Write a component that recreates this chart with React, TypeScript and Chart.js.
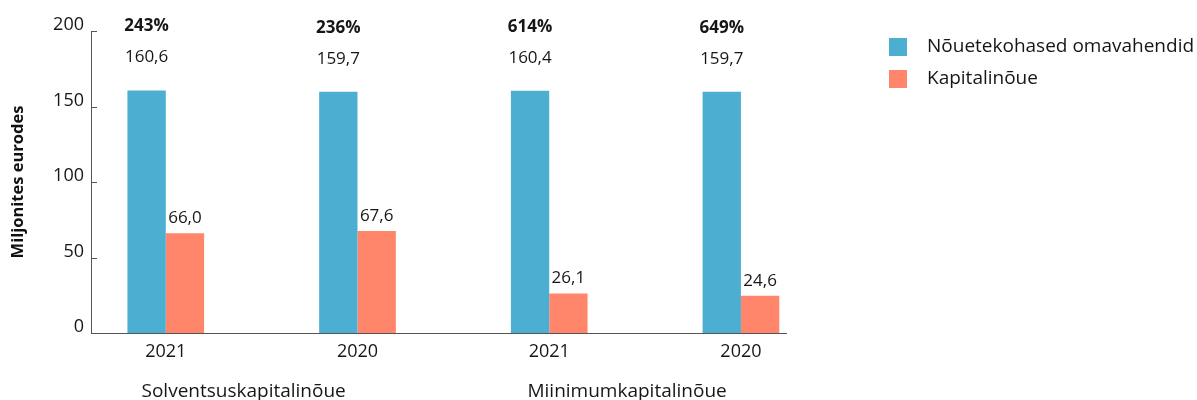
import React, { useEffect, useRef } from 'react';
import { Chart, registerables } from 'chart.js';

Chart.register(...registerables);

// ---- data ----
const categories = ['2021', '2020', '2021', '2020'];
const groupNames = ['Solventsuskapitalinõue', 'Miinimumkapitalinõue'];
const groupMembers = [[0, 1], [2, 3]];
const seriesNames = ['Nõuetekohased omavahendid', 'Kapitalinõue'];
const ownFunds = [160.6, 159.7, 160.4, 159.7];
const requirement = [66.0, 67.6, 26.1, 24.6];
const coverage = [243, 236, 614, 649];
const yTickStep = 50;
const yMax = 200;
const yAxisTitle = 'Miljonites eurodes';

// ---- style ----
const FONT = "'Open Sans', sans-serif";
const BLUE = '#4CAFD2';
const RED = '#FF866A';
const TEXT = '#161616';
const AXIS = '#555555';

const fmt = (v: number) => v.toFixed(1).replace('.', ',');

const valueLabels = {
  id: 'valueLabels',
  afterDatasetsDraw(chart: any) {
    const ctx = chart.ctx;
    ctx.save();
    ctx.textAlign = 'center';
    ctx.textBaseline = 'middle';
    ctx.fillStyle = TEXT;
    chart.data.datasets.forEach((ds: any, di: number) => {
      const meta = chart.getDatasetMeta(di);
      meta.data.forEach((bar: any, i: number) => {
        const v = ds.data[i].y;
        ctx.font = `17px ${FONT}`;
        const gap = di === 0 ? 33 : 15;
        ctx.fillText(fmt(v), bar.x, bar.y - gap);
        if (di === 0) {
          ctx.font = `bold 17px ${FONT}`;
          ctx.fillText(`${coverage[i]}%`, bar.x, bar.y - 64);
        }
      });
    });
    ctx.restore();
  },
};

const innerTicks = {
  id: 'innerTicks',
  afterDraw(chart: any) {
    const ctx = chart.ctx;
    const y = chart.scales.y;
    ctx.save();
    ctx.strokeStyle = AXIS;
    ctx.lineWidth = 1;
    y.ticks.forEach((t: any) => {
      const py = Math.round(y.getPixelForValue(t.value)) + 0.5;
      ctx.beginPath();
      ctx.moveTo(chart.chartArea.left, py);
      ctx.lineTo(chart.chartArea.left + 6, py);
      ctx.stroke();
    });
    ctx.restore();
  },
};

const sideLegend = {
  id: 'sideLegend',
  afterDraw(chart: any) {
    const ctx = chart.ctx;
    const x0 = chart.chartArea.right + 103;
    ctx.save();
    ctx.textAlign = 'left';
    ctx.textBaseline = 'middle';
    ctx.font = `19px ${FONT}`;
    chart.data.datasets.forEach((ds: any, i: number) => {
      const top = 38 + i * 32;
      ctx.fillStyle = ds.backgroundColor;
      ctx.fillRect(x0, top, 18, 18);
      ctx.fillStyle = TEXT;
      ctx.fillText(ds.label, x0 + 38, top + 9);
    });
    ctx.restore();
  },
};

export default function App() {
  const ref = useRef<HTMLCanvasElement | null>(null);

  useEffect(() => {
    document.body.style.margin = '0';
    const canvas = ref.current;
    if (!canvas) return;
    const xMin = -0.39;
    const xMax = 3.235;
    const chart = new Chart(canvas, {
      type: 'bar',
      data: {
        datasets: [
          {
            label: seriesNames[0],
            data: ownFunds.map((y, i) => ({ x: i, y })),
            backgroundColor: BLUE,
            categoryPercentage: 0.4,
            barPercentage: 1,
          },
          {
            label: seriesNames[1],
            data: requirement.map((y, i) => ({ x: i, y })),
            backgroundColor: RED,
            categoryPercentage: 0.4,
            barPercentage: 1,
          },
        ],
      } as any,
      options: {
        animation: false,
        responsive: true,
        maintainAspectRatio: false,
        layout: { padding: { top: 31, right: 411, left: 0, bottom: 0 } },
        plugins: { legend: { display: false }, tooltip: { enabled: false } },
        scales: {
          x: {
            type: 'linear',
            min: xMin,
            max: xMax,
            offset: false,
            grid: { display: false, drawTicks: false, offset: false },
            border: { display: true, color: AXIS, width: 1 },
            ticks: {
              autoSkip: false,
              maxRotation: 0,
              padding: 8,
              font: { family: FONT, size: 18 },
              color: TEXT,
              callback: (v: any) => categories[v] ?? '',
            },
            afterBuildTicks: (s: any) => {
              s.ticks = categories.map((_, i) => ({ value: i }));
            },
            afterFit: (s: any) => {
              s.height = 30;
            },
          },
          groups: {
            type: 'linear',
            position: 'bottom',
            weight: 1,
            min: xMin,
            max: xMax,
            offset: false,
            grid: { display: false, drawTicks: false },
            border: { display: false },
            ticks: {
              autoSkip: false,
              maxRotation: 0,
              padding: 17,
              labelOffset: -18,
              font: { family: FONT, size: 19 },
              color: TEXT,
              callback: (_v: any, idx: number) => groupNames[idx],
            },
            afterBuildTicks: (s: any) => {
              s.ticks = groupMembers.map((m) => ({
                value: m.reduce((a, b) => a + b, 0) / m.length,
              }));
            },
            afterFit: (s: any) => {
              s.height = 37;
            },
          },
          y: {
            min: 0,
            max: yMax,
            grid: { display: false, drawTicks: false },
            border: { display: true, color: AXIS, width: 1 },
            ticks: {
              stepSize: yTickStep,
              padding: 7,
              labelOffset: -6,
              font: { family: FONT, size: 18 },
              color: TEXT,
            },
            title: {
              display: true,
              text: yAxisTitle,
              font: { family: FONT, size: 16.5, weight: 'bold' },
              color: '#111',
              padding: { top: 8, bottom: 0 },
            },
            afterFit: (s: any) => {
              s.width = 91;
            },
          },
        } as any,
      },
      plugins: [valueLabels, innerTicks, sideLegend],
    });
    return () => chart.destroy();
  }, []);

  return (
    <div style={{ position: 'relative', width: '1197px', height: '400px' }}>
      <canvas ref={ref} />
    </div>
  );
}
